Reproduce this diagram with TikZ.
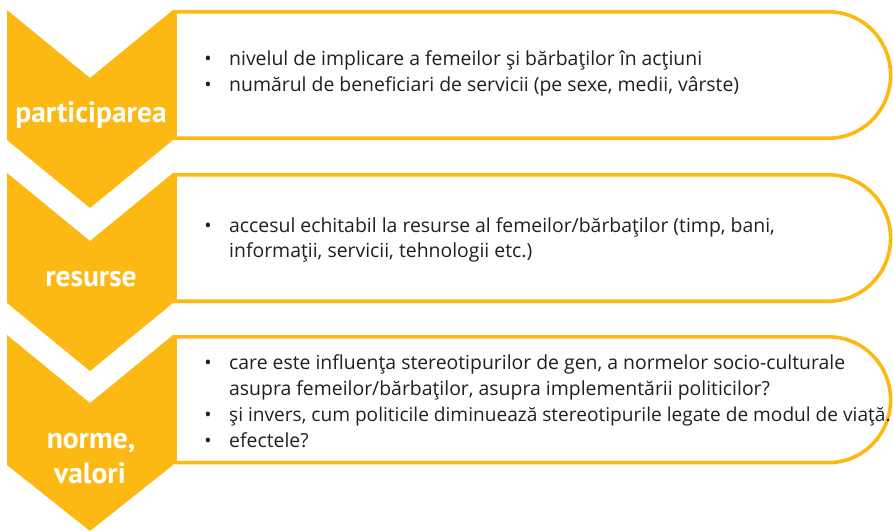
\documentclass[tikz,border=0pt]{standalone}
\usepackage{fontspec}
\setmainfont{PT Sans}
\newfontfamily\bodyfont{Open Sans}
\definecolor{gold}{HTML}{FDB913}
\definecolor{ink}{HTML}{231F20}
\tikzset{
  chev/.style={fill=gold, draw=none},
  itembox/.style={draw=gold, line width=3.6pt, fill=white},
  lbl/.style={text=white, font=\fontsize{29.5}{32}\selectfont\bfseries, anchor=base, inner sep=0pt},
  bul/.style={text=ink, font=\bodyfont\fontsize{19.4}{24}\selectfont, anchor=base, inner sep=0pt},
  line/.style={text=ink, font=\bodyfont\fontsize{19.4}{24}\selectfont, anchor=base west, inner sep=0pt},
  tightline/.style={line, font=\bodyfont\fontsize{19.1}{24}\selectfont}
}
\begin{document}
\begin{tikzpicture}[x=1pt,y=-1pt]
\useasboundingbox (0,0) rectangle (893,530);
% boxes
\foreach \t/\b [count=\i] in {11.8/138.2, 174.8/301.2, 336.8/462.6}{
  \path[itembox] (175,\t) -- (890.6-62,\t) arc[start angle=-90, end angle=90, x radius=62, y radius={(\b-\t)/2}] -- (175,\b) -- cycle;
}
% chevrons
\path[chev] (7,10) -- (90,78) -- (173,10) -- (173,140) -- (90,208) -- (7,140) -- cycle;
\path[chev] (7,173) -- (90,241) -- (173,173) -- (173,303) -- (90,371) -- (7,303) -- cycle;
\path[chev] (7,335) -- (90,403) -- (173,335) -- (173,465) -- (90,531) -- (7,465) -- cycle;
% labels
\node[lbl] (l1) at (91,122) {participarea};
\node[lbl] (l2) at (91,286) {resurse};
\node[lbl] (l3a) at (91,448) {norme,};
\node[lbl] (l3b) at (90,483) {valori};
% box 1
\node[bul] (b11) at (208,65) {•};
\node[line] (t11) at (229,65) {nivelul de implicare a femeilor şi bărbaţilor în acţiuni};
\node[bul] (b12) at (208,91) {•};
\node[line] (t12) at (229,91) {numărul de beneficiari de servicii (pe sexe, medii, vârste)};
% box 2
\node[bul] (b21) at (208,232) {•};
\node[line] (t21) at (229,232) {accesul echitabil la resurse al femeilor/bărbaţilor (timp, bani,};
\node[line] (t22) at (229,257) {informaţii, servicii, tehnologii etc.)};
% box 3
\node[bul] (b31) at (208,369) {•};
\node[line] (t31) at (229,369) {care este influenţa stereotipurilor de gen, a normelor socio-culturale};
\node[line] (t32) at (229,395) {asupra femeilor/bărbaţilor, asupra implementării politicilor?};
\node[bul] (b33) at (208,421) {•};
\node[tightline] (t33) at (229,421) {şi invers, cum politicile diminuează stereotipurile legate de modul de viaţă.};
\node[bul] (b34) at (208,447) {•};
\node[line] (t34) at (229,447) {efectele?};
\end{tikzpicture}
\end{document}
